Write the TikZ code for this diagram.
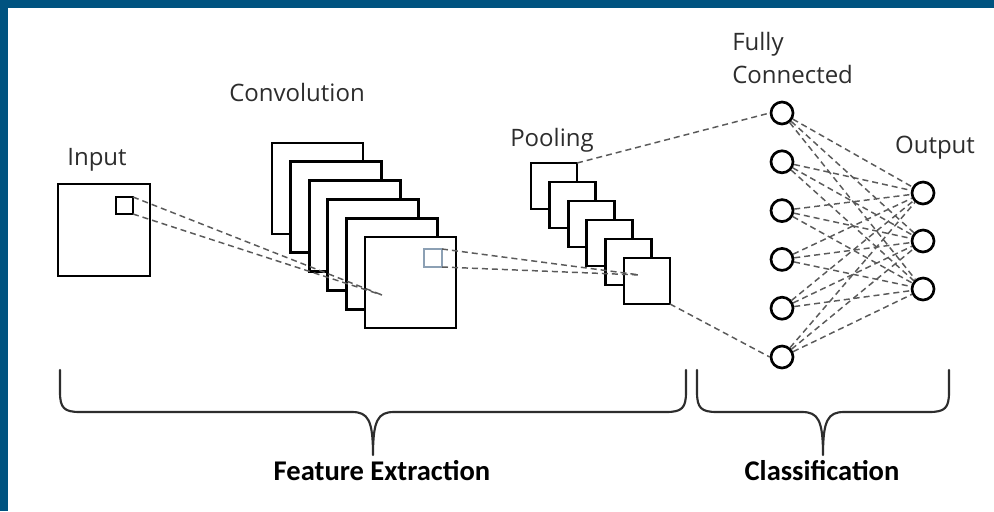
\documentclass[tikz,border=0pt]{standalone}
\usepackage{fontspec}
\setmainfont{Open Sans}
\newfontfamily\capfont{Carlito}
\definecolor{frameblue}{RGB}{0,83,128}
\definecolor{inkgray}{RGB}{45,45,45}
\definecolor{dashgray}{RGB}{90,90,90}
\definecolor{patchblue}{RGB}{140,160,180}
\begin{document}
\begin{tikzpicture}[x=0.75pt,y=-0.75pt,
  layerbox/.style={draw=black,fill=white,line width=2pt,inner sep=0pt,outer sep=0pt},
  convbox/.style={layerbox,minimum width=68.25pt,minimum height=68.25pt},
  poolbox/.style={layerbox,minimum width=34.5pt,minimum height=34.5pt},
  inbox/.style={layerbox,minimum width=69pt,minimum height=69pt},
  patch/.style={draw=#1,fill=white,line width=1.1pt,inner sep=0pt,outer sep=0pt,minimum size=12.75pt},
  neuron/.style={circle,draw=black,fill=white,line width=2pt,inner sep=0pt,minimum size=16.5pt},
  link/.style={draw=dashgray,line width=1.1pt,dash pattern=on 4.5pt off 3pt},
  lbl/.style={text=inkgray,inner sep=0pt,font=\fontsize{18}{24.75}\selectfont},
  caption/.style={text=black,inner sep=0pt,font=\capfont\bfseries\fontsize{21.4}{24}\selectfont},
  bracepath/.style={draw=inkgray,line width=1.6pt,line cap=round,line join=round}
]
\useasboundingbox (0,0) rectangle (994,511);
\fill[white] (0,0) rectangle (994,511);
% frame band
\fill[frameblue] (0,0) rectangle (994,8);
\fill[frameblue] (0,0) rectangle (8,511);

% input image and its receptive patch
\node[inbox] (in) at (104,230) {};
\node[patch=black] (inpatch) at (124.5,205.5) {};

% convolution feature maps
\foreach \i in {1,...,6}
  \node[convbox] (c\i) at ({317.5+18.6*(\i-1)},{188.5+18.8*(\i-1)}) {};
\node[patch=patchblue,minimum size=13.5pt] (cpatch) at (433,258) {};

% pooled maps
\foreach \i in {1,...,6}
  \node[poolbox] (p\i) at ({554+18.6*(\i-1)},{186+19*(\i-1)}) {};

% fully connected and output neurons
\foreach \i in {1,...,6}
  \node[neuron] (f\i) at (782,{113+48.8*(\i-1)}) {};
\foreach \i/\y in {1/193,2/241,3/289}
  \node[neuron] (o\i) at (923,\y) {};

% focus points of the receptive fields
\coordinate (cfocus) at (382,295);
\coordinate (pfocus) at (640,275);

% dashed links
\draw[link] (inpatch.north east) -- (cfocus);
\draw[link] (inpatch.south east) -- (cfocus);
\draw[link] (cpatch.north east) -- (pfocus);
\draw[link] (cpatch.south east) -- (pfocus);
\draw[link] (p1.north east) -- (f1.west);
\draw[link] (p6.south east) -- (f6.west);
\foreach \a in {1,...,6}
  \foreach \b in {1,2,3}
    \draw[link] (f\a) -- (o\b);

% labels
\node[lbl] (tin) at (97,160) {Input};
\node[lbl] (tconv) at (297,92) {Convolution};
\node[lbl] (tpool) at (552,140) {Pooling};
\node[lbl,align=left,anchor=north west] (tfc) at (732,32) {Fully\\Connected};
\node[lbl] (tout) at (935,148) {Output};

% braces
\draw[bracepath] (60,370) -- (60,392) .. controls (60,408) and (64,412) .. (80,412)
  -- (352,412) .. controls (368,412) and (373,420) .. (373,455)
  .. controls (373,420) and (378,412) .. (394,412)
  -- (666,412) .. controls (682,412) and (686,408) .. (686,392) -- (686,370);
\draw[bracepath] (697,370) -- (697,392) .. controls (697,408) and (701,412) .. (717,412)
  -- (802,412) .. controls (818,412) and (823,420) .. (823,455)
  .. controls (823,420) and (828,412) .. (844,412)
  -- (929,412) .. controls (945,412) and (949,408) .. (949,392) -- (949,370);

\node[caption] (tfe) at (382,471) {Feature Extraction};
\node[caption] (tcl) at (822,471) {Classification};
\end{tikzpicture}
\end{document}
